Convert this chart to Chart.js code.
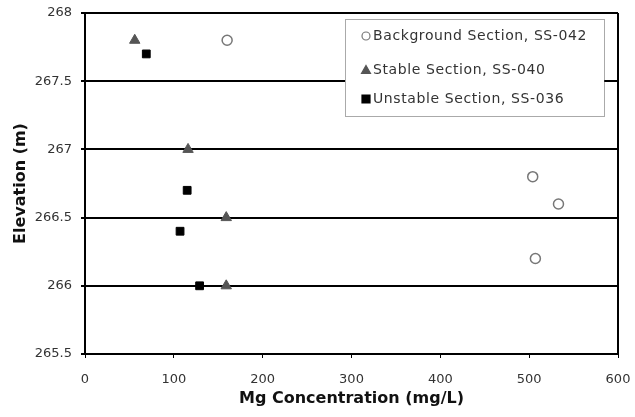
<!DOCTYPE html>
<html>
<head>
<meta charset="utf-8">
<script src="https://cdn.jsdelivr.net/npm/chart.js@4.4.0/dist/chart.umd.min.js"></script>
<style>
  html, body { margin: 0; padding: 0; background: #fff; }
  #wrap { width: 635px; height: 417px; }
</style>
</head>
<body>
<div id="wrap"><canvas id="chart"></canvas></div>
<script>
// Mg concentration (mg/L) vs elevation (m), one list pair per section
var backgroundMg = [160, 504, 533, 507];
var backgroundElev = [267.8, 266.8, 266.6, 266.2];
var stableMg = [56, 116, 159, 159];
var stableElev = [267.8, 267.0, 266.5, 266.0];
var unstableMg = [69, 115, 107, 129];
var unstableElev = [267.7, 266.7, 266.4, 266.0];

var seriesNames = ["Background Section, SS-042", "Stable Section, SS-040", "Unstable Section, SS-036"];
var yTicks = [265.5, 266, 266.5, 267, 267.5, 268];
var xTicks = [0, 100, 200, 300, 400, 500, 600];

var FONT = "'DejaVu Sans', Verdana, sans-serif";

function pairs(xs, ys) {
  return xs.map(function (x, i) { return { x: x, y: ys[i] }; });
}

// legend box drawn inside the plot, plus the right frame line
var boxLegend = {
  id: "boxLegend",
  afterDraw: function (chart) {
    var c = chart.ctx;
    var a = chart.chartArea;
    c.save();
    c.strokeStyle = "#000";
    c.lineWidth = 2;
    c.beginPath();
    c.moveTo(a.right, a.top);
    c.lineTo(a.right, a.bottom);
    c.stroke();

    var bx = 345, by = 19, bw = 259, bh = 97;
    c.fillStyle = "#fff";
    c.fillRect(bx, by, bw, bh);
    c.setLineDash([1, 1]);
    c.lineWidth = 1;
    c.strokeStyle = "#555";
    c.strokeRect(bx + 0.5, by + 0.5, bw, bh);
    c.setLineDash([]);

    var rows = [36, 70, 99];
    c.font = "14px " + FONT;
    c.letterSpacing = "0.6px";
    c.textBaseline = "middle";
    chart.data.datasets.forEach(function (ds, i) {
      var mx = 366, my = rows[i];
      c.lineWidth = 1.2;
      c.fillStyle = ds.backgroundColor;
      c.strokeStyle = ds.borderColor;
      c.beginPath();
      if (ds.pointStyle === "circle") {
        c.arc(mx, my, 4, 0, Math.PI * 2);
        c.fill(); c.stroke();
      } else if (ds.pointStyle === "triangle") {
        c.moveTo(mx, my - 4.5); c.lineTo(mx + 4.5, my + 3.5); c.lineTo(mx - 4.5, my + 3.5);
        c.closePath(); c.fill(); c.stroke();
      } else {
        c.rect(mx - 4, my - 4, 8, 8);
        c.fill(); c.stroke();
      }
      c.fillStyle = "#333";
      c.fillText(ds.label, 373, my);
    });
    c.restore();
  }
};

new Chart(document.getElementById("chart"), {
  type: "scatter",
  data: {
    datasets: [
      {
        label: seriesNames[0],
        data: pairs(backgroundMg, backgroundElev),
        pointStyle: "circle",
        pointRadius: 5,
        backgroundColor: "#fff",
        borderColor: "#777",
        borderWidth: 1.5
      },
      {
        label: seriesNames[1],
        data: pairs(stableMg, stableElev),
        pointStyle: "triangle",
        pointRadius: 6,
        backgroundColor: "#555",
        borderColor: "#555",
        borderWidth: 1
      },
      {
        label: seriesNames[2],
        data: pairs(unstableMg, unstableElev),
        pointStyle: "rect",
        pointRadius: 5.5,
        backgroundColor: "#000",
        borderColor: "#000",
        borderWidth: 1
      }
    ]
  },
  options: {
    responsive: true,
    maintainAspectRatio: false,
    animation: false,
    layout: { padding: { left: 0, top: 13, right: 17, bottom: 0 } },
    plugins: {
      legend: { display: false },
      tooltip: { enabled: false }
    },
    scales: {
      x: {
        type: "linear",
        min: xTicks[0],
        max: xTicks[xTicks.length - 1],
        afterBuildTicks: function (axis) {
          axis.ticks = xTicks.map(function (v) { return { value: v }; });
        },
        afterFit: function (axis) {
          axis.height = 63;
          axis.paddingLeft = 0;
          axis.paddingRight = 0;
        },
        grid: { drawOnChartArea: false, drawTicks: true, tickLength: 4, color: "#000", lineWidth: 1 },
        border: { display: true, color: "#000", width: 2 },
        ticks: {
          color: "#333",
          padding: 14,
          maxRotation: 0,
          font: { family: FONT, size: 13 }
        },
        title: {
          display: true,
          text: "Mg Concentration (mg/L)",
          color: "#111",
          padding: { top: 0, bottom: 9 },
          font: { family: FONT, size: 16, weight: "bold" }
        }
      },
      y: {
        type: "linear",
        min: yTicks[0],
        max: yTicks[yTicks.length - 1],
        afterBuildTicks: function (axis) {
          axis.ticks = yTicks.map(function (v) { return { value: v }; });
        },
        afterFit: function (axis) {
          axis.width = 85;
          axis.paddingTop = 0;
          axis.paddingBottom = 0;
        },
        grid: { color: "#000", lineWidth: 2, drawTicks: true, tickLength: 4 },
        border: { display: true, color: "#000", width: 2 },
        ticks: {
          color: "#333",
          padding: 9,
          font: { family: FONT, size: 13 },
          callback: function (v) { return String(v); }
        },
        title: {
          display: true,
          text: "Elevation (m)",
          color: "#111",
          padding: { top: 11, bottom: 0 },
          font: { family: FONT, size: 16, weight: "bold" }
        }
      }
    }
  },
  plugins: [boxLegend]
});
</script>
</body>
</html>
